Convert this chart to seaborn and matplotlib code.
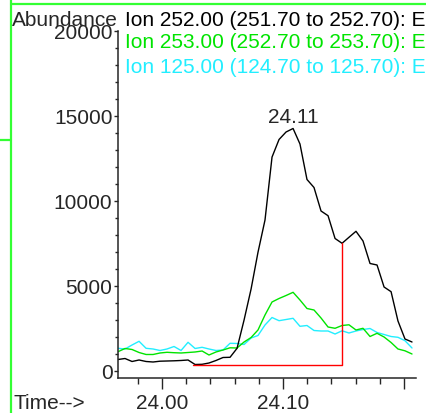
# ion chromatogram around 24.1 min (three extracted ions)
import numpy as np
import pandas as pd
import seaborn as sns
import matplotlib.pyplot as plt
from matplotlib.lines import Line2D
from matplotlib.ticker import MultipleLocator, FixedLocator, FixedFormatter

#==========Data section========
times = [23.9636, 23.9694, 23.9752, 23.9810, 23.9868, 23.9926, 23.9983, 24.0041,
         24.0099, 24.0157, 24.0215, 24.0273, 24.0331, 24.0388, 24.0446, 24.0504,
         24.0562, 24.0620, 24.0678, 24.0736, 24.0793, 24.0851, 24.0909, 24.0967,
         24.1025, 24.1083, 24.1140, 24.1198, 24.1256, 24.1314, 24.1372, 24.1430,
         24.1488, 24.1545, 24.1603, 24.1661, 24.1719, 24.1777, 24.1835, 24.1893,
         24.1950, 24.2008, 24.2066]

ion_252 = [676, 735, 559, 647, 559, 529, 576, 588, 600, 618, 647, 382, 394, 470,
           618, 794, 806, 1335, 3000, 4824, 6982, 8882, 12582, 13618, 14059, 14265,
           13353, 11265, 10794, 9412, 9135, 7794, 7512, 7865, 8218, 7647, 6324, 6235,
           4941, 4665, 2941, 1882, 1706]

ion_253 = [1135, 1324, 1265, 1088, 971, 971, 1059, 1100, 1076, 1059, 1088, 1118,
           1176, 941, 1118, 1235, 1365, 1353, 1706, 1970, 2412, 3294, 4059, 4265,
           4441, 4629, 4176, 3676, 3588, 3118, 2588, 2512, 2676, 2718, 2412, 2512,
           2029, 2218, 2000, 1676, 1294, 1188, 1000]

ion_125 = [1335, 1294, 1529, 1747, 1335, 1294, 1206, 1294, 1441, 1206, 1688, 1324,
           1394, 1294, 1206, 1235, 1629, 1618, 1559, 1941, 2088, 2706, 3147, 2959,
           3029, 3100, 2629, 2676, 2382, 2353, 2353, 2176, 2365, 2235, 2353, 2441,
           2500, 2265, 2147, 2029, 1982, 1782, 1353]

# integration baseline (red)
base_t = [24.0254, 24.1490, 24.1490]
base_y = [370, 370, 7512]

legend_lines = ["Ion 252.00 (251.70 to 252.70): E",
                "Ion 253.00 (252.70 to 253.70): E",
                "Ion 125.00 (124.70 to 125.70): E"]
ion_colors = ["black", "#00e400", "#22eeff"]

#==========Plot section========
sns.set_style("ticks")
plt.rcParams['font.family'] = ['Liberation Sans', 'DejaVu Sans']
FS = 15

df = pd.DataFrame({
    "time": times * 3,
    "abundance": ion_252 + ion_253 + ion_125,
    "ion": ["252"] * len(times) + ["253"] * len(times) + ["125"] * len(times),
})

W, H = 426, 414
fig = plt.figure(figsize=(W / 100, H / 100), dpi=100)
ax = fig.add_axes([118 / W, 1 - 379 / H, (416 - 118) / W, (379 - 32) / H])

sns.lineplot(data=df, x="time", y="abundance", hue="ion", hue_order=["125", "253", "252"],
             palette={"252": ion_colors[0], "253": ion_colors[1], "125": ion_colors[2]},
             estimator=None, sort=False, linewidth=1.0, legend=False, ax=ax)
ax.plot(base_t, base_y, color="red", linewidth=1.0)

# label the apex of the main peak
i_max = int(np.argmax(ion_252))
ax.annotate(f"{times[i_max]:.2f}", (times[i_max], ion_252[i_max]), xytext=(0, 2),
            textcoords="offset points", ha="center", va="bottom", fontsize=FS)

ax.set_xlim(23.9636, 24.2099)
ax.set_ylim(-412, 20000)
sns.despine(ax=ax)
for sp in ["left", "bottom"]:
    ax.spines[sp].set_linewidth(1.1)

ax.yaxis.set_major_locator(MultipleLocator(5000))
ax.yaxis.set_minor_locator(MultipleLocator(1000))
ax.xaxis.set_major_locator(FixedLocator([24.0, 24.1, 24.2]))
ax.xaxis.set_major_formatter(FixedFormatter(["24.00", "24.10", ""]))
ax.xaxis.set_minor_locator(MultipleLocator(0.02))
ax.tick_params(axis="y", which="major", length=3, width=1, labelsize=FS, pad=1)
ax.tick_params(axis="y", which="minor", length=2, width=1)
ax.tick_params(axis="x", which="major", length=8, width=1, labelsize=FS, pad=3)
ax.tick_params(axis="x", which="minor", length=4.5, width=1)
ax.set_xlabel("")
ax.set_ylabel("")

# header texts
fig.text(12 / W, 1 - 20 / H, "Abundance", fontsize=FS, ha="left", va="center")
for k, (txt, col) in enumerate(zip(legend_lines, ion_colors)):
    fig.text(125 / W, 1 - [20.5, 43, 67.5][k] / H, txt, color=col, fontsize=FS,
             ha="left", va="center")
fig.text(13 / W, 1 - 404 / H, "Time-->", fontsize=FS, ha="left", va="center")

# green frame of the window
frame = "#33ff33"
fig.add_artist(Line2D([11 / W, 11 / W], [0, 1], color=frame, lw=1.6, transform=fig.transFigure))
fig.add_artist(Line2D([11 / W, 1], [1 - 4.5 / H, 1 - 4.5 / H], color=frame, lw=1.6, transform=fig.transFigure))
fig.add_artist(Line2D([0, 11 / W], [1 - 140.5 / H, 1 - 140.5 / H], color=frame, lw=1.6, transform=fig.transFigure))

fig.savefig("out.png", dpi=100)
